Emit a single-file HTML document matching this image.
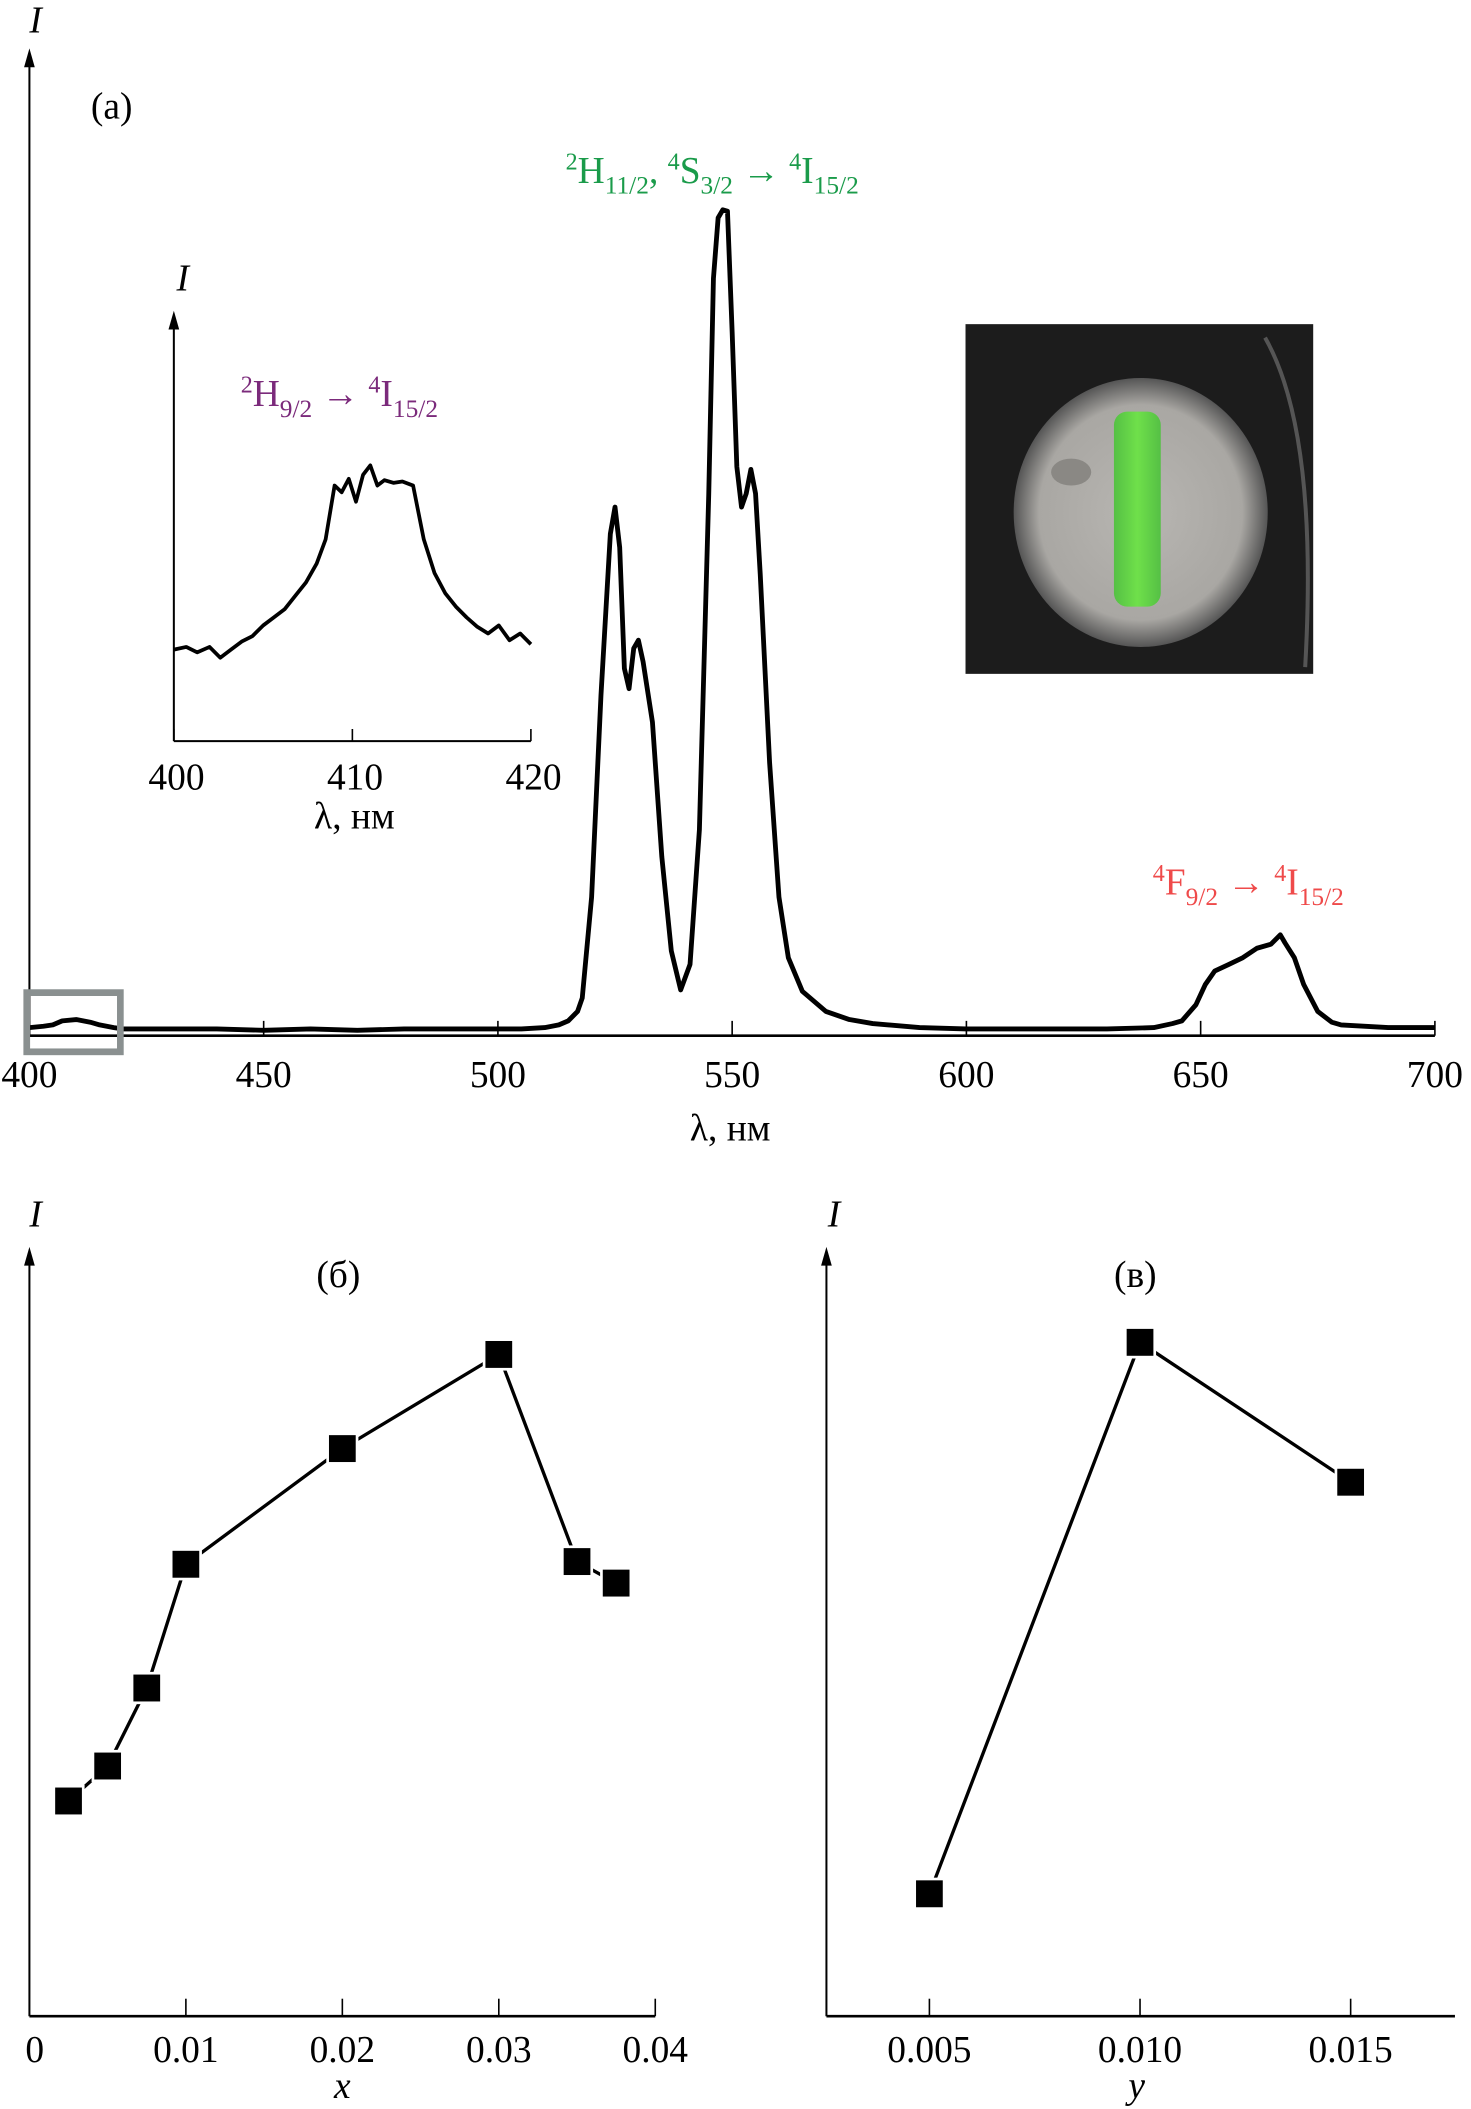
<!DOCTYPE html>
<html><head><meta charset="utf-8"><style>
html,body{margin:0;padding:0;background:#fff;}
svg{display:block;font-family:"Liberation Serif",serif;}
</style></head><body>
<svg id="fig" width="1471" height="2109" viewBox="0 0 1100 1568" preserveAspectRatio="none" xmlns="http://www.w3.org/2000/svg">
<defs>
<radialGradient id="disc" cx="50%" cy="50%" r="50%"><stop offset="0" stop-color="#b8b6b2"/><stop offset="0.8" stop-color="#a9a7a3"/><stop offset="1" stop-color="#555"/></radialGradient>
<linearGradient id="grn" x1="0" x2="1"><stop offset="0" stop-color="#55c045"/><stop offset="0.5" stop-color="#6fe04a"/><stop offset="1" stop-color="#55c045"/></linearGradient>
</defs>
<g id="main"></g>
<g id="inset"></g>
<g id="pb"></g>
<g id="pc"></g>
<g>
<rect x="722" y="241" width="260" height="260" fill="#1c1c1c"/>
<path d="M946 251 Q986 321 976 496" stroke="#555" stroke-width="3" fill="none"/>
<ellipse cx="853" cy="381" rx="95" ry="100" fill="url(#disc)"/>
<ellipse cx="801" cy="351" rx="15" ry="10" fill="#8a8884"/>
<rect x="833" y="306" width="35" height="145" rx="10" fill="url(#grn)"/>
</g>
<g font-size="28">
<text x="68" y="88">(a)</text>
<text x="22" y="24" font-style="italic">I</text>
<text x="423" y="136" fill="#1a9b4a"><tspan font-size="18" dy="-10">2</tspan><tspan dy="10">H</tspan><tspan font-size="19" dy="8">11/2</tspan><tspan dy="-8">, </tspan><tspan font-size="18" dy="-10">4</tspan><tspan dy="10">S</tspan><tspan font-size="19" dy="8">3/2</tspan><tspan dy="-8"> → </tspan><tspan font-size="18" dy="-10">4</tspan><tspan dy="10">I</tspan><tspan font-size="19" dy="8">15/2</tspan></text>
<text x="180" y="302" fill="#7b2a7b"><tspan font-size="18" dy="-10">2</tspan><tspan dy="10">H</tspan><tspan font-size="19" dy="8">9/2</tspan><tspan dy="-8"> → </tspan><tspan font-size="18" dy="-10">4</tspan><tspan dy="10">I</tspan><tspan font-size="19" dy="8">15/2</tspan></text>
<text x="862" y="665" fill="#ef4a4a"><tspan font-size="18" dy="-10">4</tspan><tspan dy="10">F</tspan><tspan font-size="19" dy="8">9/2</tspan><tspan dy="-8"> → </tspan><tspan font-size="18" dy="-10">4</tspan><tspan dy="10">I</tspan><tspan font-size="19" dy="8">15/2</tspan></text>
<text x="546" y="848" text-anchor="middle">λ, нм</text>
<text x="132" y="216" font-style="italic">I</text>
<text x="265" y="616" text-anchor="middle">λ, нм</text>
<text x="22" y="912" font-style="italic">I</text>
<text x="619" y="912" font-style="italic">I</text>
<text x="253" y="957" text-anchor="middle">(б)</text>
<text x="849" y="957" text-anchor="middle">(в)</text>
<text x="256" y="1560" text-anchor="middle" font-style="italic">x</text>
<text x="850" y="1560" text-anchor="middle" font-style="italic">y</text>
</g>
</svg>
<script>
// Main spectrum data
const specNm=[400,403,405,407,410,413,415,418,420,430,440,450,460,470,480,490,500,505,510,513,515,517,518,520,522,524,525,526,527,528,529,530,531,533,535,537,539,541,543,545,546,547,548,549,550,551,552,553,554,555,556,558,560,562,565,570,575,580,590,600,610,620,630,640,644,646,649,651,653,656,659,662,665,667,668,670,672,675,678,680,690,700];
const specI=[3,4,5,8,9,7,5,3,2,2,2,1,2,1,2,2,2,2,3,5,8,15,25,100,250,370,390,360,270,255,285,291,275,230,130,60,31,50,150,400,560,605,611,610,520,420,390,400,418,400,340,200,100,55,30,15,9,6,3,2,2,2,2,3,6,8,20,35,45,50,55,62,65,72,66,55,35,15,7,5,3,3];
const xTicksA=[400,450,500,550,600,650,700];
// Inset data
const insNm=[400,400.7,401.3,402,402.6,403.2,403.8,404.4,405,405.6,406.2,406.8,407.4,408,408.5,409,409.4,409.8,410.2,410.6,411,411.4,411.8,412.3,412.8,413.4,414,414.6,415.2,415.8,416.4,417,417.6,418.2,418.8,419.4,420];
const insI=[68,70,66,70,62,68,74,78,86,92,98,108,118,132,150,190,185,195,178,198,205,190,194,192,193,190,150,125,110,100,92,85,80,86,75,80,72];
const xTicksIns=[400,410,420];
// Panel b
const bX=[0.0025,0.005,0.0075,0.01,0.02,0.03,0.035,0.0375];
const bI=[158,184,242,334,420,490,336,320];
const xTicksB=["0","0.01","0.02","0.03","0.04"];
const xTickValB=[0,0.01,0.02,0.03,0.04];
// Panel c
const cY=[0.005,0.010,0.015];
const cI=[89,499,395];
const xTicksC=["0.005","0.010","0.015"];
const xTickValC=[0.005,0.010,0.015];

const NS="http://www.w3.org/2000/svg";
function mk(parent,tag,attrs){const e=document.createElementNS(NS,tag);for(const k in attrs)e.setAttribute(k,attrs[k]);parent.appendChild(e);return e;}
function arrow(g,x,y){return mk(g,'path',{d:`M${x-4} ${y+14} L${x} ${y} L${x+4} ${y+14} Z`,fill:'#000'});}

// ---- Main
const gm=document.getElementById('main');
const ax=v=>22+(v-400)*(1073-22)/300;
const ay=v=>767-v;
let e=mk(gm,'line',{x1:22,y1:770,x2:1073,y2:770,stroke:'#000','stroke-width':2});

e=mk(gm,'line',{x1:22,y1:770,x2:22,y2:40,stroke:'#000','stroke-width':1.5});

arrow(gm,22,36);
xTicksA.forEach(t=>{
 let l=mk(gm,'line',{x1:ax(t),y1:770,x2:ax(t),y2:759,stroke:'#000','stroke-width':1.2});
 
 let tx=mk(gm,'text',{x:ax(t),y:808,'text-anchor':'middle','font-size':28});tx.textContent=t;
 
});
let pts=specNm.map((n,i)=>`${ax(n).toFixed(1)},${ay(specI[i]).toFixed(1)}`).join(' ');
e=mk(gm,'polyline',{points:pts,fill:'none',stroke:'#000','stroke-width':3.6,'stroke-linejoin':'round'});

e=mk(gm,'rect',{x:20,y:738,width:70,height:44,fill:'none',stroke:'#8a9090','stroke-width':5});


// ---- Inset
const gi=document.getElementById('inset');
const ix=v=>130+(v-400)*(397-130)/20;
const iy=v=>551-v;
e=mk(gi,'line',{x1:130,y1:551,x2:397,y2:551,stroke:'#000','stroke-width':1.5});

e=mk(gi,'line',{x1:130,y1:551,x2:130,y2:245,stroke:'#000','stroke-width':1.5});

arrow(gi,130,231);
xTicksIns.forEach(t=>{
 let l=mk(gi,'line',{x1:ix(t),y1:551,x2:ix(t),y2:542,stroke:'#000','stroke-width':1.2});
 
 let tx=mk(gi,'text',{x:ix(t)+2,y:587,'text-anchor':'middle','font-size':28});tx.textContent=t;
 
});
pts=insNm.map((n,i)=>`${ix(n).toFixed(1)},${iy(insI[i]).toFixed(1)}`).join(' ');
e=mk(gi,'polyline',{points:pts,fill:'none',stroke:'#000','stroke-width':2.8,'stroke-linejoin':'round'});


// ---- Scatter panels
function panel(g,x0,x1,vx0,vx1,xs,is,ticks,tickVals,pfx,axisEnd){
 const sx=v=>x0+(v-vx0)*(x1-x0)/(vx1-vx0);
 const sy=v=>1497-v;
 let a=mk(g,'line',{x1:axisEnd[0],y1:1499,x2:axisEnd[1],y2:1499,stroke:'#000','stroke-width':2});
 
 a=mk(g,'line',{x1:axisEnd[0],y1:1499,x2:axisEnd[0],y2:940,stroke:'#000','stroke-width':1.5});
 
 arrow(g,axisEnd[0],927);
 tickVals.forEach((t,i)=>{
  if(sx(t)>axisEnd[0]+3){let l=mk(g,'line',{x1:sx(t),y1:1499,x2:sx(t),y2:1486,stroke:'#000','stroke-width':1.2});
  }
  let tx=mk(g,'text',{x:sx(t)+(t===0?4:0),y:1533,'text-anchor':'middle','font-size':28});tx.textContent=ticks[i];
  
 });
 const p=xs.map((v,i)=>`${sx(v).toFixed(1)},${sy(is[i]).toFixed(1)}`).join(' ');
 let ln=mk(g,'polyline',{points:p,fill:'none',stroke:'#000','stroke-width':2.5});
 
 xs.forEach((v,i)=>{
  let r=mk(g,'rect',{x:sx(v)-11,y:sy(is[i])-11,width:22,height:22,fill:'#000',stroke:'#fff','stroke-width':2});
  
 });
}
panel(document.getElementById('pb'),22,490,0,0.04,bX,bI,xTicksB,xTickValB,'panel-b',[22,490]);
panel(document.getElementById('pc'),695,1010,0.005,0.015,cY,cI,xTicksC,xTickValC,'panel-c',[618,1088]);
</script>
</body></html>
